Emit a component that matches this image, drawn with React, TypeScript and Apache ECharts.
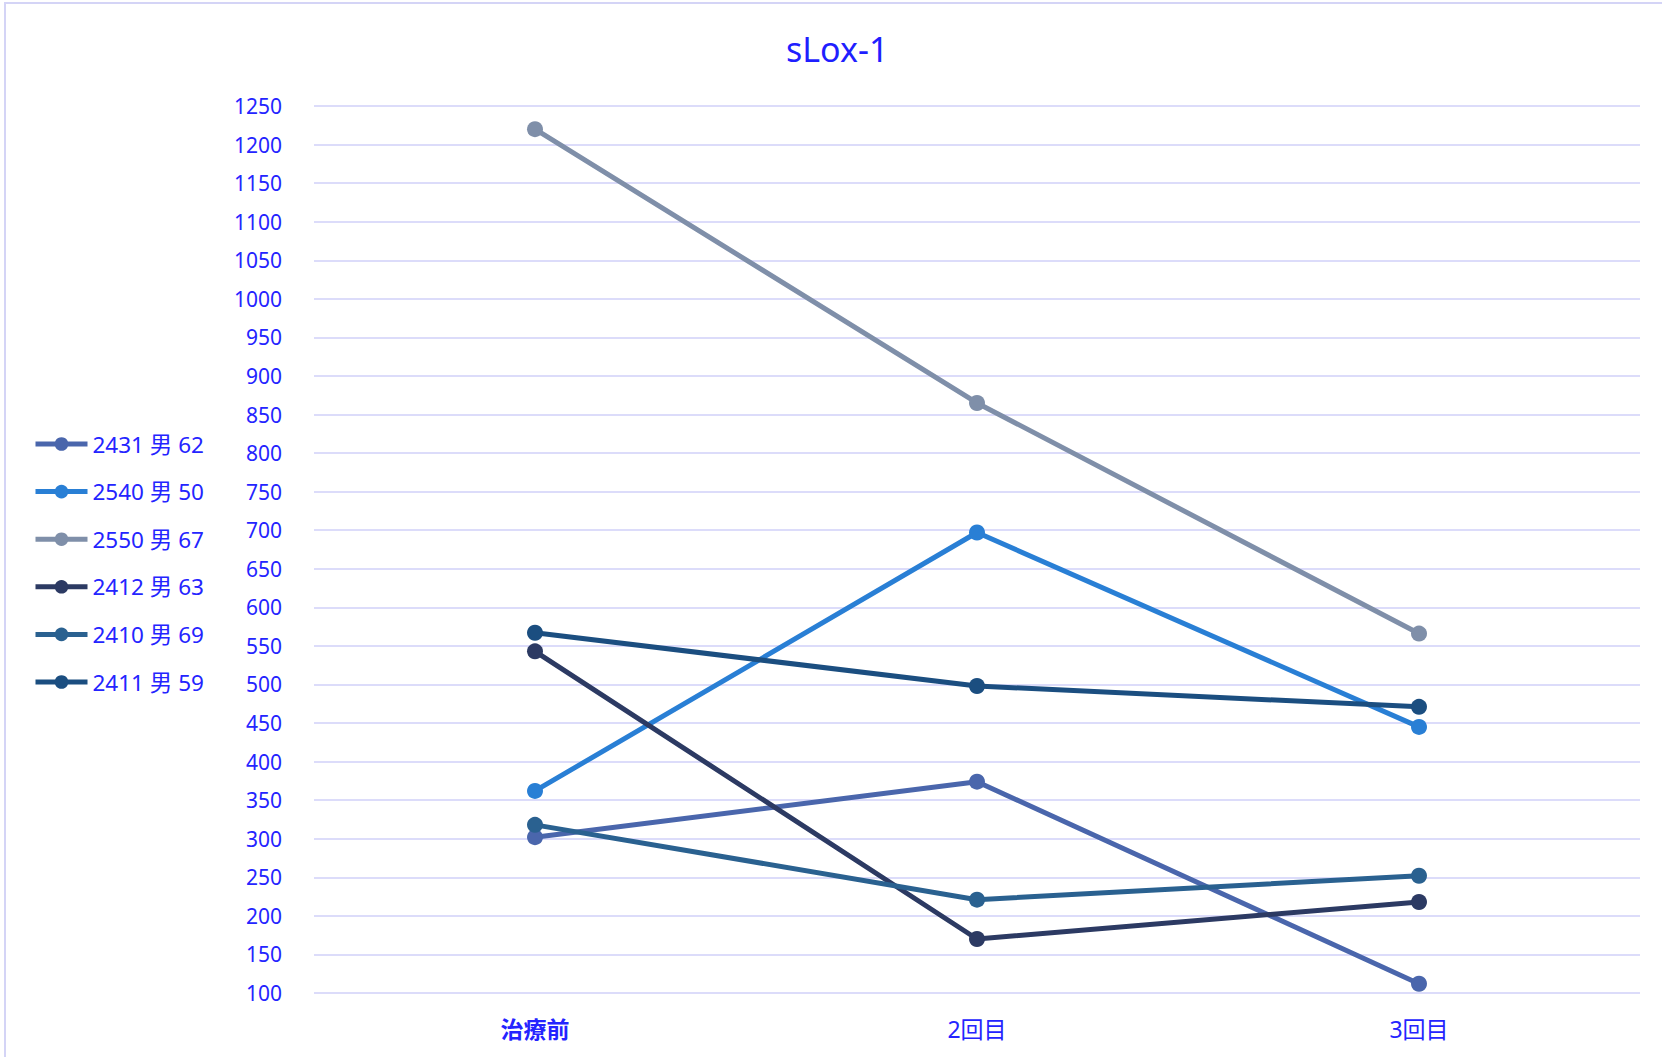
import React, { useEffect, useRef } from "react";
import * as echarts from "echarts";

const categories = ["治療前", "2回目", "3回目"];
const seriesNames = ["2431 男 62", "2540 男 50", "2550 男 67", "2412 男 63", "2410 男 69", "2411 男 59"];
const s2431 = [302, 374, 112];
const s2540 = [362, 697, 445];
const s2550 = [1220, 865, 566];
const s2412 = [543, 170, 218];
const s2410 = [318, 221, 252];
const s2411 = [567, 498, 471];
const seriesValues = [s2431, s2540, s2550, s2412, s2410, s2411];
const seriesColors = ["#4A66AC", "#297FD5", "#7F8FA9", "#2C3A63", "#2A6190", "#1B4E80"];

const FONT = "'Noto Sans', 'Noto Sans CJK JP', sans-serif";
const TEXT = "#2424ff";

export default function App() {
  const ref = useRef<HTMLDivElement>(null);
  useEffect(() => {
    document.body.style.margin = "0";
    const chart = echarts.init(ref.current!, null, { renderer: "svg" });
    chart.setOption({
      animation: false,
      backgroundColor: "#ffffff",
      textStyle: { fontFamily: FONT },
      title: {
        text: "sLox-1",
        left: 786,
        top: 32,
        padding: 0,
        textStyle: { fontFamily: FONT, fontSize: 34, fontWeight: "normal", color: "#1f1fff" },
      },
      graphic: [
        {
          type: "rect",
          shape: { x: 5, y: 3, width: 1700, height: 1100 },
          style: { fill: "none", stroke: "#d4d4f6", lineWidth: 2 },
          silent: true,
        },
      ],
      legend: {
        orient: "vertical",
        left: 33,
        top: 431,
        padding: 0,
        itemWidth: 52,
        itemHeight: 17,
        itemGap: 21.6,
        data: seriesNames,
        lineStyle: { width: 5 },
        textStyle: { fontFamily: FONT, fontSize: 22.5, color: TEXT, lineHeight: 26 },
      },
      grid: { left: 314, right: 22, top: 106, bottom: 64, containLabel: false },
      xAxis: {
        type: "category",
        data: categories,
        boundaryGap: true,
        axisLine: { show: false },
        axisTick: { show: false },
        axisLabel: {
          margin: 24,
          fontFamily: FONT,
          fontSize: 23,
          color: TEXT,
          formatter: (v: string, i: number) => (i === 0 ? "{b|" + v + "}" : v),
          rich: { b: { fontFamily: FONT, fontSize: 23, fontWeight: "bold", color: TEXT } },
        },
      },
      yAxis: {
        type: "value",
        min: 100,
        max: 1250,
        interval: 50,
        axisLine: { show: false },
        axisTick: { show: false },
        axisLabel: {
          margin: 32,
          fontFamily: FONT,
          fontSize: 21,
          color: TEXT,
          formatter: (v: number) => String(v),
        },
        splitLine: { lineStyle: { color: "#d0d0f8", width: 1.5 } },
      },
      series: seriesNames.map((name, i) => ({
        name,
        type: "line",
        data: seriesValues[i],
        symbol: "circle",
        symbolSize: 16,
        color: seriesColors[i],
        itemStyle: { color: seriesColors[i] },
        lineStyle: { color: seriesColors[i], width: 5 },
      })),
    });
    return () => chart.dispose();
  }, []);
  return <div ref={ref} style={{ width: 1662, height: 1057 }} />;
}
